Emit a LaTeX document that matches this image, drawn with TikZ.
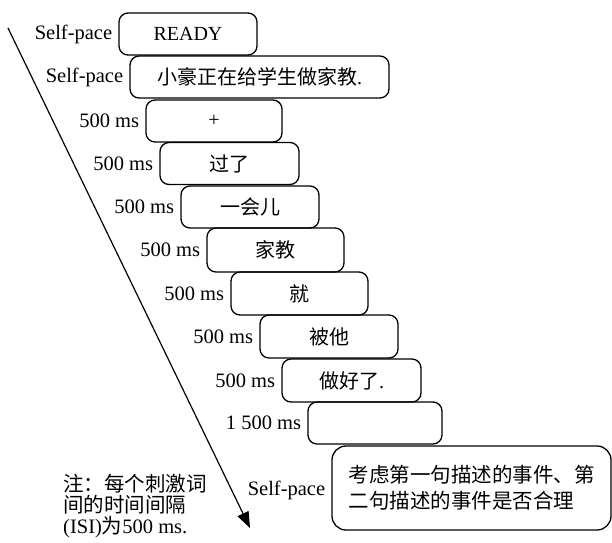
\documentclass[tikz,border=0pt]{standalone}
\usepackage{fontspec}
\setmainfont{Liberation Serif}
\newfontfamily\cjk{Noto Sans CJK SC}
\usetikzlibrary{arrows.meta}
\begin{document}
\begin{tikzpicture}[x=1pt,y=-1pt,
  box/.style={draw, line width=1.3pt, rounded corners=9pt, minimum height=42pt, inner sep=0pt, font=\fontsize{20}{24}\selectfont},
  lab/.style={anchor=east, inner sep=0pt, font=\fontsize{20.5}{24}\selectfont},
  arr/.style={line width=1.2pt, -{Triangle[length=16pt,width=12pt]}}
]
\useasboundingbox (0,0) rectangle (612,542);
\node[box, minimum width=138pt] (b1) at (188,34) {READY};
\node[box, minimum width=259pt] (b2) at (259.5,77) {{\cjk 小豪正在给学生做家教}.};
\node[box, minimum width=136pt] (b3) at (214,121) {+};
\node[box, minimum width=139pt] (b4) at (229.5,163.5) {\cjk 过了};
\node[box, minimum width=138pt] (b5) at (250,207) {\cjk 一会儿};
\node[box, minimum width=137pt, minimum height=44pt] (b6) at (275.5,250) {\cjk 家教};
\node[box, minimum width=137pt, minimum height=43pt] (b7) at (299.5,293.5) {\cjk 就};
\node[box, minimum width=138pt, minimum height=43pt] (b8) at (329,336.5) {\cjk 被他};
\node[box, minimum width=139pt, minimum height=43pt] (b9) at (351.5,380.5) {{\cjk 做好了}.};
\node[box, minimum width=134pt] (b10) at (375,423) {};
\node[box, minimum width=279pt, minimum height=84pt, rounded corners=14pt, align=left, font=\cjk\fontsize{20.5}{26}\selectfont] (b11) at (471.5,488) {考虑第一句描述的事件、第\\二句描述的事件是否合理};

\node[lab] (l1) at ([xshift=-6pt]b1.west) {Self-pace};
\node[lab] (l2) at ([xshift=-6pt]b2.west) {Self-pace};
\node[lab] (l3) at ([xshift=-6pt]b3.west) {500 ms};
\node[lab] (l4) at ([xshift=-6pt]b4.west) {500 ms};
\node[lab] (l5) at ([xshift=-6pt]b5.west) {500 ms};
\node[lab] (l6) at ([xshift=-6pt]b6.west) {500 ms};
\node[lab] (l7) at ([xshift=-6pt]b7.west) {500 ms};
\node[lab] (l8) at ([xshift=-6pt]b8.west) {500 ms};
\node[lab] (l9) at ([xshift=-6pt]b9.west) {500 ms};
\node[lab] (l10) at ([xshift=-6pt]b10.west) {1 500 ms};
\node[lab] (l11) at ([xshift=-6pt,yshift=-2pt]b11.west) {Self-pace};

\node[anchor=north west, align=left, inner sep=0pt, font=\fontsize{20.5}{21}\selectfont] (note) at (63,474)
  {{\cjk 注：每个刺激词}\\{\cjk 间的时间间隔}\\(ISI){\cjk 为}500 ms.};

\coordinate (s) at (8,28);
\coordinate (e) at (250,528);
\draw[arr] (s) -- (e);
\end{tikzpicture}
\end{document}
